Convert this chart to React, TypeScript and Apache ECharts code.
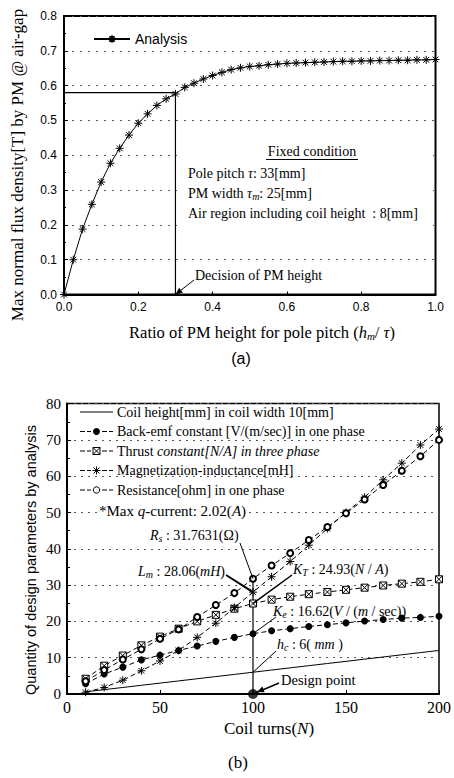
import { useEffect, useRef } from 'react';
import * as echarts from 'echarts';

// ---------- (a) data ----------
const ratioX = [0, 0.025, 0.05, 0.075, 0.1, 0.125, 0.15, 0.175, 0.2, 0.225, 0.25, 0.275, 0.3, 0.325, 0.35, 0.375, 0.4, 0.425, 0.45, 0.475, 0.5, 0.525, 0.55, 0.575, 0.6, 0.625, 0.65, 0.675, 0.7, 0.725, 0.75, 0.775, 0.8, 0.825, 0.85, 0.875, 0.9, 0.925, 0.95, 0.975, 1.0];
const fluxY = [0, 0.1, 0.188, 0.259, 0.323, 0.377, 0.42, 0.458, 0.492, 0.519, 0.543, 0.562, 0.576, 0.595, 0.607, 0.619, 0.629, 0.638, 0.646, 0.651, 0.655, 0.657, 0.66, 0.662, 0.664, 0.665, 0.666, 0.667, 0.668, 0.669, 0.67, 0.67, 0.671, 0.671, 0.672, 0.672, 0.673, 0.673, 0.674, 0.674, 0.675];
const decisionX = 0.3;
const decisionY = 0.58;

// ---------- (b) data ----------
const turns = [10, 20, 30, 40, 50, 60, 70, 80, 90, 100, 110, 120, 130, 140, 150, 160, 170, 180, 190, 200];
const coilHeight = [0.6, 1.2, 1.8, 2.4, 3.0, 3.6, 4.2, 4.8, 5.4, 6.0, 6.6, 7.2, 7.8, 8.4, 9.0, 9.6, 10.2, 10.8, 11.4, 12.0];
const backEmf = [2.8, 5.5, 7.4, 9.4, 10.7, 12.0, 13.2, 14.5, 15.6, 16.62, 17.4, 18.0, 18.6, 19.1, 19.6, 20.1, 20.5, 20.9, 21.1, 21.4];
const thrust = [4.2, 7.8, 10.6, 13.4, 15.8, 18.0, 20.0, 21.8, 23.5, 24.93, 26.0, 26.8, 27.5, 28.1, 28.7, 29.3, 29.9, 30.4, 30.9, 31.6];
const inductance = [0.5, 1.8, 3.8, 6.4, 9.1, 12.0, 15.6, 19.5, 23.8, 28.06, 32.3, 36.5, 41.0, 45.6, 50.0, 54.2, 59.0, 63.6, 68.6, 73.0];
const resistance = [3.5, 6.6, 9.5, 12.3, 15.2, 17.8, 21.2, 24.5, 27.8, 31.7631, 35.4, 38.8, 42.4, 46.0, 49.8, 53.6, 57.6, 61.5, 65.5, 70.0];
const designTurns = 100;
const designRs = 31.7631;
const designLm = 28.06;
const designKt = 24.93;
const designKe = 16.62;
const designHc = 6;

const NAMES = [
  'Coil height[mm] in coil width 10[mm]',
  'Back-emf constant [V/(m/sec)] in one phase',
  'Thrust constant[N/A] in three phase',
  'Magnetization-inductance[mH]',
  'Resistance[ohm] in one phase',
];
const MARKS = ['none', 'dot', 'boxx', 'star', 'ring'];

const SERIF = '"Liberation Serif", "Times New Roman", serif';
const SANS = '"Liberation Sans", Arial, sans-serif';
const STAR = 'path://M0,-5L0,5M-5,0L5,0M-3.6,-3.6L3.6,3.6M-3.6,3.6L3.6,-3.6';
const BOXX = 'path://M-4,-4L4,-4L4,4L-4,4ZM-4,-4L4,4M4,-4L-4,4';
const DASH = [5, 3];

const zip = (xs: number[], ys: number[]) => xs.map((x, i) => [x, ys[i]]);

function arrowHead(x1: number, y1: number, x2: number, y2: number, len = 7, half = 3) {
  const a = Math.atan2(y2 - y1, x2 - x1);
  const bx = x2 - len * Math.cos(a);
  const by = y2 - len * Math.sin(a);
  const px = -Math.sin(a) * half;
  const py = Math.cos(a) * half;
  return [[x2, y2], [bx + px, by + py], [bx - px, by - py]];
}

function markerGraphic(kind: string, x: number, y: number): any[] {
  const s = { stroke: '#000', lineWidth: 1 };
  if (kind === 'dot') return [{ type: 'circle', z: 11, shape: { cx: x, cy: y, r: 3.5 }, style: { fill: '#000' } }];
  if (kind === 'ring') return [{ type: 'circle', z: 11, shape: { cx: x, cy: y, r: 3.2 }, style: { fill: '#fff', ...s } }];
  if (kind === 'boxx') return [
    { type: 'rect', z: 11, shape: { x: x - 3.5, y: y - 3.5, width: 7, height: 7 }, style: { fill: '#fff', ...s } },
    { type: 'line', z: 12, shape: { x1: x - 3.5, y1: y - 3.5, x2: x + 3.5, y2: y + 3.5 }, style: s },
    { type: 'line', z: 12, shape: { x1: x + 3.5, y1: y - 3.5, x2: x - 3.5, y2: y + 3.5 }, style: s },
  ];
  if (kind === 'star') return [
    { type: 'line', z: 12, shape: { x1: x, y1: y - 4, x2: x, y2: y + 4 }, style: s },
    { type: 'line', z: 12, shape: { x1: x - 4, y1: y, x2: x + 4, y2: y }, style: s },
    { type: 'line', z: 12, shape: { x1: x - 3, y1: y - 3, x2: x + 3, y2: y + 3 }, style: s },
    { type: 'line', z: 12, shape: { x1: x - 3, y1: y + 3, x2: x + 3, y2: y - 3 }, style: s },
  ];
  return [];
}

export default function App() {
  const ref = useRef<HTMLDivElement>(null);
  useEffect(() => {
    if (!ref.current) return;
    const chart = echarts.init(ref.current, undefined, { renderer: 'svg' });
    const FS = 14;
    const rich = (fs: number) => ({
      i: { fontStyle: 'italic', fontFamily: SERIF, fontSize: fs, lineHeight: fs + 3 },
      n: { fontFamily: SERIF, fontSize: fs, lineHeight: fs + 3 },
      sub: { fontStyle: 'italic', fontFamily: SERIF, fontSize: Math.round(fs * 0.68), lineHeight: Math.round(fs * 0.68), verticalAlign: 'bottom' },
    });
    const lineSeries = (name: string, ys: number[], symbol: string, dash: any, itemStyle: any, size = 7) => ({
      name,
      type: 'line',
      xAxisIndex: 1,
      yAxisIndex: 1,
      data: zip(turns, ys),
      symbol,
      symbolSize: size,
      showSymbol: symbol !== 'none',
      lineStyle: { color: '#000', width: 1, type: dash },
      itemStyle,
      z: 3,
    });
    const option: any = {
      animation: false,
      backgroundColor: '#fff',
      grid: [
        { left: 64, top: 16, width: 371.5, height: 278.5, show: true, borderColor: '#000', borderWidth: 2 },
        { left: 67, top: 403.6, width: 377, height: 290.4, show: true, borderColor: '#000', borderWidth: 1.5 },
      ],
      xAxis: [
        {
          type: 'value', gridIndex: 0, min: 0, max: 1, interval: 0.2,
          axisLine: { lineStyle: { color: '#000', width: 2 } },
          axisTick: { inside: true, length: 3, lineStyle: { color: '#000' } },
          axisLabel: { color: '#000', fontFamily: SANS, fontSize: 12, margin: 6, formatter: (v: number) => v.toFixed(1) },
          splitLine: { show: false },
        },
        {
          type: 'value', gridIndex: 1, min: 0, max: 200, interval: 50,
          axisLine: { lineStyle: { color: '#000', width: 2 } },
          axisTick: { inside: true, length: 4, lineStyle: { color: '#000' } },
          axisLabel: { color: '#000', fontFamily: SERIF, fontSize: 16, margin: 5 },
          splitLine: { show: false },
        },
      ],
      yAxis: [
        {
          type: 'value', gridIndex: 0, min: 0, max: 0.8, interval: 0.1,
          axisLine: { show: true, lineStyle: { color: '#000', width: 2 } },
          axisTick: { show: true, inside: true, length: 4, lineStyle: { color: '#000' } },
          minorTick: { show: true, splitNumber: 2, length: 2, lineStyle: { color: '#000' } },
          axisLabel: { color: '#000', fontFamily: SANS, fontSize: 12, margin: 7, formatter: (v: number) => v.toFixed(1) },
          splitLine: { show: true, lineStyle: { color: '#555', width: 1, type: [2, 6] } },
        },
        {
          type: 'value', gridIndex: 1, min: 0, max: 80, interval: 10,
          axisLine: { show: true, lineStyle: { color: '#000', width: 2 } },
          axisTick: { show: true, inside: true, length: 4, lineStyle: { color: '#000' } },
          minorTick: { show: true, splitNumber: 2, length: 3, lineStyle: { color: '#000' } },
          axisLabel: { color: '#000', fontFamily: SERIF, fontSize: 15, margin: 6 },
          splitLine: { show: true, lineStyle: { color: '#555', width: 1, type: [2, 5] } },
        },
      ],
      legend: [
        {
          data: ['Analysis'], left: 88, top: 27, itemWidth: 36, itemHeight: 9,
          textStyle: { fontFamily: SANS, fontSize: 14, color: '#000' },
          selectedMode: false,
        },
      ],
      series: [
        {
          name: 'Analysis', type: 'line', xAxisIndex: 0, yAxisIndex: 0,
          data: zip(ratioX, fluxY), symbol: STAR, symbolSize: 8,
          lineStyle: { color: '#000', width: 1 },
          itemStyle: { color: '#000', borderColor: '#000', borderWidth: 1 },
          z: 3,
        },
        {
          name: 'decision', type: 'line', xAxisIndex: 0, yAxisIndex: 0,
          data: [[0, decisionY], [decisionX, decisionY], [decisionX, 0]],
          symbol: 'none', lineStyle: { color: '#000', width: 1.2 }, silent: true, z: 2,
        },
        lineSeries(NAMES[0], coilHeight, 'none', 'solid', { color: '#000' }),
        lineSeries(NAMES[1], backEmf, 'circle', DASH, { color: '#000' }, 7),
        lineSeries(NAMES[2], thrust, BOXX, DASH, { color: '#fff', borderColor: '#000', borderWidth: 1 }, 7),
        lineSeries(NAMES[3], inductance, STAR, DASH, { color: '#000', borderColor: '#000', borderWidth: 1 }, 8),
        lineSeries(NAMES[4], resistance, 'emptyCircle', DASH, { color: '#000', borderColor: '#000', borderWidth: 1 }, 6),
        {
          name: 'designLine', type: 'line', xAxisIndex: 1, yAxisIndex: 1,
          data: [[designTurns, 0], [designTurns, designRs]],
          symbol: 'none', lineStyle: { color: '#000', width: 1.2 }, silent: true, z: 2,
        },
        {
          name: 'designPoint', type: 'scatter', xAxisIndex: 1, yAxisIndex: 1,
          data: [[designTurns, 0]], symbol: 'circle', symbolSize: 10,
          itemStyle: { color: '#000' }, z: 4,
        },
      ],
    };
    chart.setOption(option);

    const p0 = (x: number, y: number) => chart.convertToPixel({ gridIndex: 0 } as any, [x, y]) as number[];
    const p1 = (x: number, y: number) => chart.convertToPixel({ gridIndex: 1 } as any, [x, y]) as number[];

    const txt = (x: number, y: number, text: string, extra: any = {}, fs = FS) => ({
      type: 'text', x, y, z: 10,
      style: { text, fontFamily: SERIF, fontSize: fs, fill: '#000', align: 'left', verticalAlign: 'middle', rich: rich(fs), ...extra },
    });
    const ln = (x1: number, y1: number, x2: number, y2: number, w = 1, dash?: number[]) => ({
      type: 'line', z: 10, shape: { x1, y1, x2, y2 }, style: { stroke: '#000', lineWidth: w, lineDash: dash },
    });

    const dec = p0(decisionX, 0);
    const rs = p1(designTurns, designRs);
    const lm = p1(designTurns, designLm);
    const kt = p1(designTurns, designKt);
    const ke = p1(designTurns, designKe);
    const hc = p1(designTurns, designHc);
    const dp = p1(designTurns, 0);

    const graphic: any[] = [
      // (a)
      { type: 'rect', z: 5, shape: { x: 177, y: 134, width: 256, height: 100 }, style: { fill: '#fff' } },
      { type: 'text', x: 17, y: 165, rotation: Math.PI / 2, z: 10,
        style: { text: 'Max normal flux density[T] by PM @ air-gap', fontFamily: SERIF, fontSize: 17, fill: '#000', align: 'center', verticalAlign: 'middle' } },
      txt(262, 332, '{n|Ratio of PM height for pole pitch (}{i|h}{sub|m}{n|/ }{i|τ}{n|)}', { align: 'center' }, 16.5),
      { type: 'text', x: 241, y: 358, z: 10, style: { text: '(a)', fontFamily: SANS, fontSize: 16, fill: '#000', align: 'center', verticalAlign: 'middle' } },
      txt(312, 151, 'Fixed condition', { align: 'center' }),
      ln(266, 159.5, 358, 159.5, 1),
      txt(188, 173, '{n|Pole pitch }{i|τ}{n|: 33[mm]}'),
      txt(188, 193, '{n|PM width }{i|τ}{sub|m}{n|: 25[mm]}'),
      txt(188, 213, 'Air region including coil height  : 8[mm]'),
      txt(195, 275, 'Decision of PM height'),
      ln(194, 280, dec[0], dec[1], 1),
      { type: 'polygon', z: 10, shape: { points: arrowHead(194, 280, dec[0], dec[1]) }, style: { fill: '#000' } },
      // (b)
      { type: 'text', x: 31, y: 560, rotation: Math.PI / 2, z: 10,
        style: { text: 'Quantity of design parameters by analysis', fontFamily: SANS, fontSize: 14.5, fill: '#000', align: 'center', verticalAlign: 'middle' } },
      txt(269, 728, '{n|Coil turns(}{i|N}{n|)}', { align: 'center' }, 17),
      { type: 'text', x: 238, y: 762, z: 10, style: { text: '(b)', fontFamily: SERIF, fontSize: 17, fill: '#000', align: 'center', verticalAlign: 'middle' } },
      txt(99, 511, '{n|*Max }{i|q}{n|-current: 2.02(}{i|A}{n|)}', { backgroundColor: '#fff' }, 15),
      txt(150, 535, '{i|R}{sub|s}{n| : 31.7631(Ω)}'),
      ln(240, 543, rs[0], rs[1], 1),
      txt(138, 571, '{i|L}{sub|m}{n| : 28.06(}{i|mH}{n|)}'),
      ln(226, 575, lm[0], lm[1], 2),
      txt(293, 569, '{i|K}{sub|T}{n| : 24.93(}{i|N}{n| / }{i|A}{n|)}'),
      ln(292, 575, kt[0], kt[1], 1.5),
      txt(273, 611, '{i|K}{sub|e}{n| : 16.62(}{i|V}{n| / (}{i|m}{n| / sec))}'),
      ln(276, 617, ke[0], ke[1], 1),
      txt(277, 644, '{i|h}{sub|c}{n| : 6( }{i|mm}{n| )}'),
      ln(276, 651, hc[0], hc[1], 1),
      txt(281, 680, 'Design point', {}, 14.5),
      ln(279, 683, dp[0], dp[1], 1.5),
      { type: 'polygon', z: 10, shape: { points: arrowHead(279, 683, dp[0] + 4, dp[1] - 2) }, style: { fill: '#000' } },
    ];

    // legend (b), drawn by hand
    const rowY = [412, 431.5, 451, 470.5, 490];
    NAMES.forEach((name, k) => {
      const y = rowY[k];
      if (MARKS[k] === 'none') {
        graphic.push(ln(80, y, 113, y, 1));
      } else {
        graphic.push(ln(80, y, 91, y, 1, [5, 2]));
        graphic.push(ln(102, y, 113, y, 1, [5, 2]));
        graphic.push(...markerGraphic(MARKS[k], 96.5, y));
      }
      const text = name.startsWith('Thrust') ? '{n|Thrust }{i|constant[N/A] in three phase}' : name;
      graphic.push(txt(117, y, text));
    });

    chart.setOption({ graphic });

    return () => chart.dispose();
  }, []);
  return <div ref={ref} style={{ position: 'absolute', left: 0, top: 0, width: 454, height: 778, background: '#fff' }} />;
}
